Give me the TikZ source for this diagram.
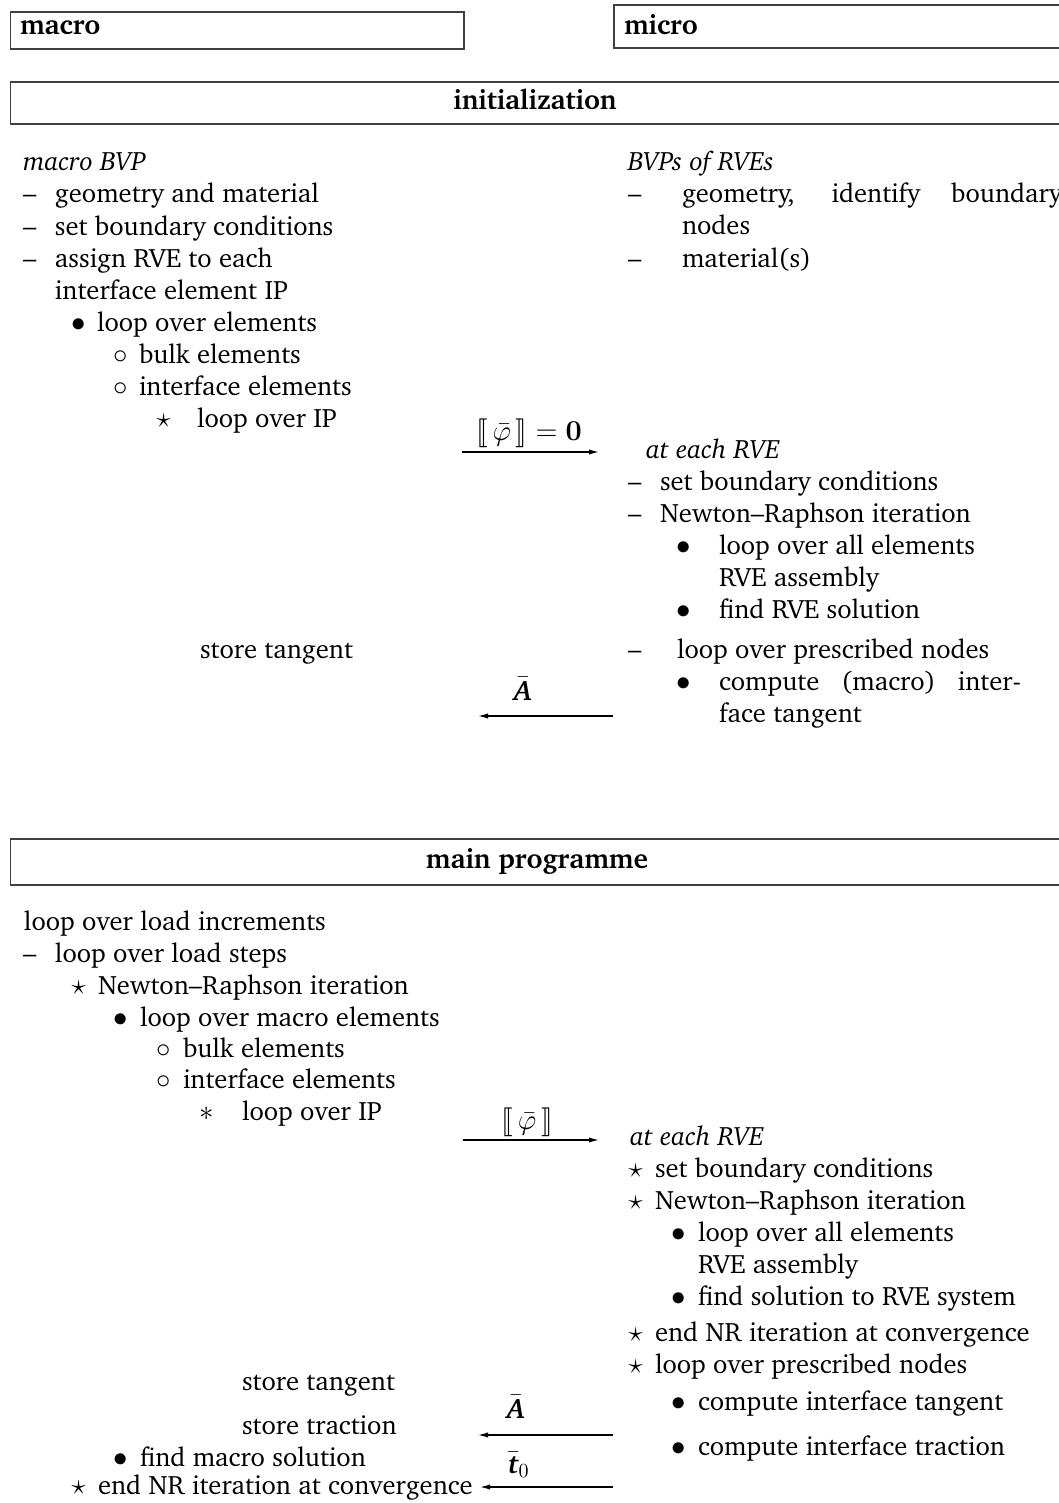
\documentclass[tikz,border=0pt]{standalone}
\usepackage[T1]{fontenc}
\usepackage{charter}
\usepackage{amsmath}
\usepackage{stmaryrd}
\usetikzlibrary{arrows.meta}
\newcommand\mk[2]{\makebox[#1pt][l]{#2}}
\newcommand\bfit[1]{\mbox{\bfseries\itshape #1}}
\tikzset{
  x=0.5pt, y=-0.5pt,
  txt/.style={anchor=base west, inner sep=0pt, outer sep=0pt, font=\fontsize{13.3}{16}\selectfont},
  ttl/.style={inner sep=0pt, outer sep=0pt, font=\fontsize{13.8}{16}\selectfont\bfseries},
  hdr/.style={draw=black!75, line width=0.85pt, anchor=north west, inner sep=0pt},
  flow/.style={line width=0.6pt, -{Latex[length=5pt,width=2.6pt]}},
  lbl/.style={anchor=base, inner sep=0pt, outer sep=0pt, font=\fontsize{14}{16}\selectfont},
}
\begin{document}
\begin{tikzpicture}
\useasboundingbox (0,0) rectangle (1059,1503);
\begin{scope}
\clip (0,0) rectangle (1059,1503);
% header boxes
\node[hdr, minimum width=226.75pt, minimum height=18.5pt] (macrobox) at (9.5,11) {};
\node[hdr, minimum width=243.5pt, minimum height=21.75pt] (microbox) at (613,4) {};
\node[hdr, minimum width=545.25pt, minimum height=21pt] (initbox) at (9.5,81) {};
\node[hdr, minimum width=545.25pt, minimum height=23pt] (mainbox) at (9.5,838) {};
\node[ttl, anchor=base west] (macrot) at (20,35) {macro};
\node[ttl, anchor=base west] (microt) at (624,35) {micro};
\node[ttl, anchor=base] (initt) at (535,110) {initialization};
\node[ttl, anchor=base] (maint) at (537,868) {main programme};

% ---------- initialization, macro side
\node[txt] (mbvp) at (23,171) {\textit{macro BVP}};
\node[txt] (i1) at (23,203) {\mk{16}{\textendash}geometry and material};
\node[txt] (i2) at (23,235) {\mk{16}{\textendash}set boundary conditions};
\node[txt] (i3) at (23,267) {\mk{16}{\textendash}\parbox[t]{150pt}{assign RVE to each\\interface element IP}};
\node[txt] (i4) at (71.5,331) {\mk{12.75}{$\bullet$}loop over elements};
\node[txt] (i5) at (113.5,363) {\mk{12.75}{$\circ$}bulk elements};
\node[txt] (i6) at (113.5,395) {\mk{12.75}{$\circ$}interface elements};
\node[txt] (i7) at (156.5,427) {\mk{20.25}{$\star$}loop over IP};
\node[txt] (i8) at (200,658) {store tangent};

% ---------- initialization, micro side
\node[txt] (rbvp) at (628,171) {\textit{BVPs of RVEs}};
\node[txt] (r1) at (628,203) {\mk{27}{\textendash}\parbox[t]{190pt}{\makebox[190pt][s]{geometry, identify boundary}\\nodes}};
\node[txt] (r2) at (628,267) {\mk{27}{\textendash}material(s)};
\node[txt] (r3) at (646,458) {\textit{at each RVE}};
\node[txt] (r4) at (628,490) {\mk{16}{\textendash}set boundary conditions};
\node[txt] (r5) at (628,522) {\mk{16}{\textendash}Newton\textendash Raphson iteration};
\node[txt] (r6) at (676.5,554) {\mk{21.25}{$\bullet$}\parbox[t]{170pt}{loop over all elements\\RVE assembly}};
\node[txt] (r7) at (676.5,618) {\mk{21.25}{$\bullet$}find RVE solution};
\node[txt] (r8) at (628,658) {\mk{24.5}{\textendash}loop over prescribed nodes};
\node[txt] (r9) at (676.5,690) {\mk{21.25}{$\bullet$}\parbox[t]{151pt}{\makebox[151pt][s]{compute (macro) inter-}\\face tangent}};

% ---------- initialization arrows
\node[lbl] (l1) at (529,440) {$\llbracket\,\bar{\varphi}\,\rrbracket=\mathbf{0}$};
\coordinate (a1s) at (462,452);
\coordinate (a1e) at (599,452);
\draw[flow] (a1s) -- (a1e);
\node[lbl] (l2) at (523,700) {$\bar{\bfit{A}}$};
\coordinate (a2s) at (613,716);
\coordinate (a2e) at (478,716);
\draw[flow] (a2s) -- (a2e);

% ---------- main programme, macro side
\node[txt] (m1) at (24,930) {loop over load increments};
\node[txt] (m2) at (23,962) {\mk{16}{\textendash}loop over load steps};
\node[txt] (m3) at (71.5,994) {\mk{13.25}{$\star$}Newton\textendash Raphson iteration};
\node[txt] (m4) at (113.5,1026) {\mk{13.25}{$\bullet$}loop over macro elements};
\node[txt] (m5) at (156.5,1057) {\mk{13.25}{$\circ$}bulk elements};
\node[txt] (m6) at (156.5,1088) {\mk{13.25}{$\circ$}interface elements};
\node[txt] (m7) at (199,1120) {\mk{21.5}{$\ast$}loop over IP};
\node[txt] (m8) at (242,1390) {store tangent};
\node[txt] (m9) at (242,1434) {store traction};
\node[txt] (m10) at (113.5,1466) {\mk{13.25}{$\bullet$}find macro solution};
\node[txt] (m11) at (71.5,1494) {\mk{13.25}{$\star$}end NR iteration at convergence};

% ---------- main programme, micro side
\node[txt] (n1) at (630,1145) {\textit{at each RVE}};
\node[txt] (n2) at (628.5,1177) {\mk{13.25}{$\star$}set boundary conditions};
\node[txt] (n3) at (628.5,1209) {\mk{13.25}{$\star$}Newton\textendash Raphson iteration};
\node[txt] (n4) at (671.5,1241) {\mk{13.25}{$\bullet$}\parbox[t]{170pt}{loop over all elements\\RVE assembly}};
\node[txt] (n5) at (671.5,1305) {\mk{13.25}{$\bullet$}find solution to RVE system};
\node[txt] (n6) at (628.5,1341) {\mk{13.25}{$\star$}end NR iteration at convergence};
\node[txt] (n7) at (628.5,1373) {\mk{13.25}{$\star$}loop over prescribed nodes};
\node[txt] (n8) at (671.5,1410) {\mk{13.25}{$\bullet$}compute interface tangent};
\node[txt] (n9) at (671.5,1455) {\mk{13.25}{$\bullet$}compute interface traction};

% ---------- main programme arrows
\node[lbl] (l3) at (527,1129) {$\llbracket\,\bar{\varphi}\,\rrbracket$};
\coordinate (a3s) at (463,1140);
\coordinate (a3e) at (599,1140);
\draw[flow] (a3s) -- (a3e);
\node[lbl] (l4) at (516,1418) {$\bar{\bfit{A}}$};
\coordinate (a4s) at (613,1435);
\coordinate (a4e) at (478,1435);
\draw[flow] (a4s) -- (a4e);
\node[lbl] (l5) at (519,1473) {$\bar{\bfit{t}}_0$};
\coordinate (a5s) at (613,1487);
\coordinate (a5e) at (480,1487);
\draw[flow] (a5s) -- (a5e);
\end{scope}
\end{tikzpicture}
\end{document}
